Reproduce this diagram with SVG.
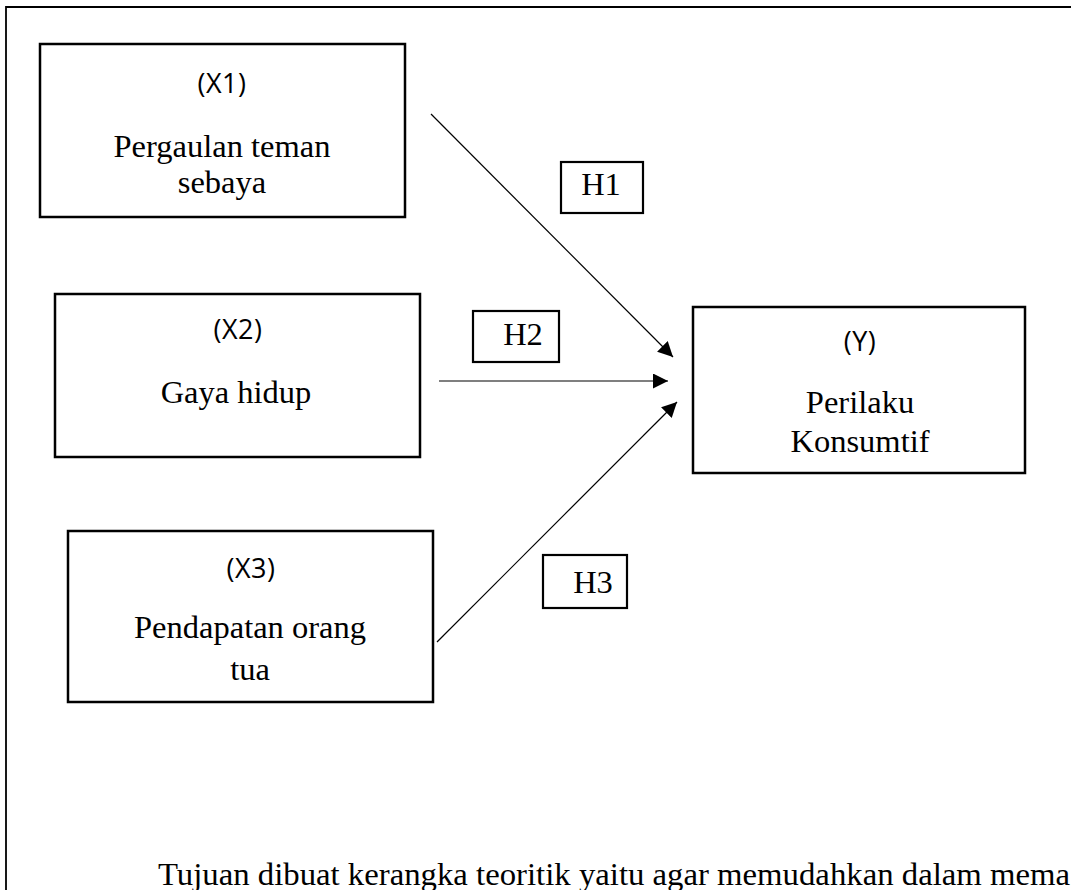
<svg xmlns="http://www.w3.org/2000/svg" width="1071" height="890" viewBox="0 0 1071 890">
<style>
.box{fill:#fff;stroke:#000;stroke-width:2.5}
.hbox{fill:#fff;stroke:#000;stroke-width:2.2}
.serif{font-family:"Liberation Serif","Times New Roman",serif;font-size:32.5px;fill:#000;text-anchor:middle}
.sans{font-family:"Open Sans","Noto Sans",sans-serif;font-size:27px;fill:#000;text-anchor:middle;letter-spacing:0.5px}
.conn{stroke:#000;stroke-width:1.2;fill:none;marker-end:url(#ah)}
</style>
<defs>
<marker id="ah" markerUnits="userSpaceOnUse" markerWidth="16" markerHeight="16" refX="15" refY="7.5" orient="auto" viewBox="0 0 16 16">
<path d="M0,0 L15,7.5 L0,15 z" fill="#000"/>
</marker>
</defs>
<rect width="1071" height="890" fill="#fff"/>
<path id="frame" d="M6,890 L6,7 L1071,7" fill="none" stroke="#000" stroke-width="1.8"/>
<g id="connectors">
<line class="conn" x1="431" y1="114" x2="673" y2="357"/>
<line class="conn" x1="439" y1="381" x2="668" y2="381"/>
<line class="conn" x1="437" y1="642" x2="677" y2="402"/>
</g>
<g id="x1">
<rect class="box" x="40" y="44" width="365" height="173"/>
<text class="sans" x="222" y="93">(X1)</text>
<text class="serif" x="222" y="157">Pergaulan teman</text>
<text class="serif" x="222" y="193">sebaya</text>
</g>
<g id="x2">
<rect class="box" x="55" y="294" width="365" height="163"/>
<text class="sans" x="238" y="339">(X2)</text>
<text class="serif" x="236" y="403">Gaya hidup</text>
</g>
<g id="x3">
<rect class="box" x="68" y="531" width="365" height="171"/>
<text class="sans" x="251" y="578">(X3)</text>
<text class="serif" x="250" y="638">Pendapatan orang</text>
<text class="serif" x="250" y="680">tua</text>
</g>
<g id="y">
<rect class="box" x="693" y="307" width="332" height="166"/>
<text class="sans" x="860" y="351">(Y)</text>
<text class="serif" x="860" y="413">Perilaku</text>
<text class="serif" x="860" y="452">Konsumtif</text>
</g>
<g id="h1">
<rect class="hbox" x="561" y="162" width="82" height="51"/>
<text class="serif" x="601" y="195">H1</text>
</g>
<g id="h2">
<rect class="hbox" x="473" y="311" width="86" height="51"/>
<text class="serif" x="523" y="345">H2</text>
</g>
<g id="h3">
<rect class="hbox" x="543" y="555" width="84" height="53"/>
<text class="serif" x="593" y="593">H3</text>
</g>
<text x="158" y="885" font-family="'Liberation Serif','Times New Roman',serif" font-size="32.5" fill="#000" textLength="912" lengthAdjust="spacingAndGlyphs">Tujuan dibuat kerangka teoritik yaitu agar memudahkan dalam mema</text>
</svg>
